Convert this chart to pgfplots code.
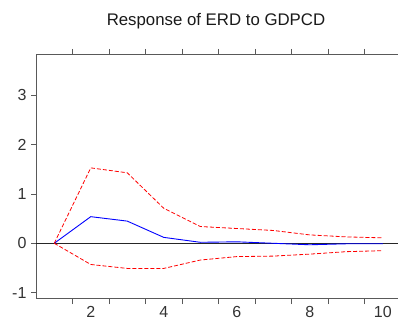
\documentclass[border=0pt]{standalone}
\usepackage{pgfplots}
\pgfplotsset{compat=1.18}
\usepackage{fontspec}
\setmainfont{Liberation Sans}
\begin{document}
\begin{tikzpicture}
\path[use as bounding box] (0pt,0pt) rectangle (398pt,326pt);
\clip (0pt,0pt) rectangle (398pt,326pt);
\begin{axis}[
 at={(36pt,28pt)}, anchor=south west,
 scale only axis, width=365pt, height=243pt,
 xmin=0.5, xmax=10.5, ymin=-1.11, ymax=3.82,
 axis line style={draw=black!65, line width=1pt},
 tick align=outside,
 xtick={2,4,6,8,10},
 ytick={-1,0,1,2,3},
 minor xtick={1.5,2.5,3.5,4.5,5.5,6.5,7.5,8.5,9.5},
 xtick style={draw=none},
 minor x tick style={draw=black!65, line width=0.8pt},
 y tick style={draw=black!65, line width=0.8pt},
 major tick length=5pt, minor tick length=6pt,
 ticklabel style={font=\fontsize{16}{16}\selectfont, text=black!80},
 yticklabel style={xshift=-1pt},
 /pgf/number format/assume math mode=true,
 clip=false,
]
\addplot[black!85, line width=0.8pt] coordinates {(0.5,0) (10.5,0)};
\addplot[blue, line width=0.9pt] coordinates {
 (1,0) (2,0.54) (3,0.45) (4,0.12) (5,0.02) (6,0.03) (7,0.0) (8,-0.03) (9,-0.01) (10,-0.01)};
\addplot[red, line width=0.8pt, dash pattern=on 4pt off 2pt] coordinates {
 (1,0) (2,1.53) (3,1.43) (4,0.71) (5,0.34) (6,0.30) (7,0.26) (8,0.17) (9,0.13) (10,0.11)};
\addplot[red, line width=0.8pt, dash pattern=on 4pt off 2pt] coordinates {
 (1,0) (2,-0.43) (3,-0.51) (4,-0.51) (5,-0.34) (6,-0.27) (7,-0.26) (8,-0.22) (9,-0.17) (10,-0.15)};
\end{axis}
\node[font=\fontsize{16.8}{16.8}\selectfont, text=black!90] at (216pt,305pt) {Response of ERD to GDPCD};
\end{tikzpicture}
\end{document}
